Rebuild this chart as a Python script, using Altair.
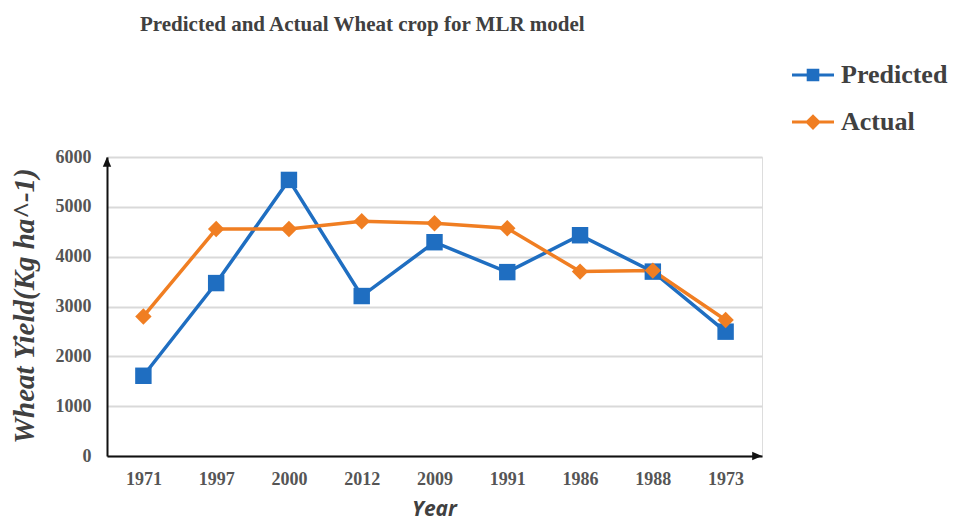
import altair as alt
import pandas as pd

years = ["1971", "1997", "2000", "2012", "2009", "1991", "1986", "1988", "1973"]
predicted = [1610, 3470, 5540, 3210, 4290, 3690, 4430, 3700, 2495]
actual = [2800, 4555, 4555, 4710, 4670, 4570, 3700, 3720, 2730]
series_names = ["Predicted", "Actual"]
colors = ["#1F6EC1", "#F07E22"]
x_title = "Year"
y_title = "Wheat Yield(Kg ha^-1)"
chart_title = "Predicted and Actual Wheat crop  for MLR model"

rows = []
for name, vals in zip(series_names, [predicted, actual]):
    for yr, v in zip(years, vals):
        rows.append({"Year": yr, "series": name, "value": v})
df = pd.DataFrame(rows)

W, H = 655, 299

x_enc = alt.X("Year:N", sort=years, scale=alt.Scale(type="point", padding=0.5),
              axis=alt.Axis(title=None, labelAngle=0, ticks=False, grid=False,
                            domainColor="#111111", domainWidth=2, labelPadding=14))
y_enc = alt.Y("value:Q", scale=alt.Scale(domain=[0, 6000], nice=False),
              axis=alt.Axis(title=None, values=[0, 1000, 2000, 3000, 4000, 5000, 6000],
                            format="d", ticks=False, domainColor="#111111", domainWidth=2,
                            gridColor="#D9D9D9", gridWidth=2, labelPadding=16))

color_a = alt.Color("series:N", scale=alt.Scale(domain=series_names, range=colors), legend=None)

lines = alt.Chart(df).mark_line(strokeWidth=3.5).encode(x=x_enc, y=y_enc, color=color_a)
points = alt.Chart(df).mark_point(filled=True, opacity=1, size=270).encode(
    x=x_enc, y=y_enc, color=color_a,
    shape=alt.Shape("series:N", scale=alt.Scale(domain=series_names, range=["square", "diamond"]), legend=None))

one = pd.DataFrame({"k": [0]})
arrow_up = alt.Chart(one).mark_point(filled=True, size=196, color="#111111", opacity=1,
                                     shape="M0,0L0.6,1.4L-0.6,1.4Z").encode(
    x=alt.value(0), y=alt.datum(6000, type="quantitative"))
arrow_right = alt.Chart(one).mark_point(filled=True, size=196, color="#111111", opacity=1,
                                        shape="M0,0L-1.4,-0.6L-1.4,0.6Z").encode(
    x=alt.value(W), y=alt.datum(0, type="quantitative"))

ytitle = alt.Chart(pd.DataFrame({"t": [y_title]})).mark_text(
    font="Liberation Serif", fontStyle="italic", fontWeight="bold", fontSize=29,
    angle=270, align="center", baseline="alphabetic", color="#404040").encode(
    text="t:N", x=alt.value(-73), y=alt.value(149))
xtitle = alt.Chart(pd.DataFrame({"t": [x_title]})).mark_text(
    font="Open Sans", fontStyle="italic", fontWeight="bold", fontSize=21,
    align="center", baseline="alphabetic", color="#404040").encode(
    text="t:N", x=alt.value(W / 2), y=alt.value(H + 60))

legend_paths = [
    "M-2,-0.15H2V0.15H-2Z M-0.6,-0.6H0.6V0.6H-0.6Z",
    "M-2,-0.15H2V0.15H-2Z M0,-0.75L0.75,0L0,0.75L-0.75,0Z",
]
leg = alt.Legend(title=None, orient="none", legendX=693, legendY=-95,
                 symbolSize=441, symbolOpacity=1, symbolStrokeWidth=0,
                 labelFont="Liberation Serif", labelFontWeight="bold", labelFontSize=26,
                 labelColor="#404040", labelOffset=15, rowPadding=21, padding=0)
legend_layer = alt.Chart(df).mark_point(filled=True, opacity=0, size=1).encode(
    x=x_enc, y=y_enc,
    color=alt.Color("series:N", scale=alt.Scale(domain=series_names, range=colors), legend=leg),
    shape=alt.Shape("series:N", scale=alt.Scale(domain=series_names, range=legend_paths), legend=leg),
)

chart = alt.layer(
    alt.layer(lines, points, arrow_up, arrow_right, ytitle, xtitle),
    legend_layer,
).resolve_scale(color="independent", shape="independent").properties(
    width=W, height=H,
    padding={"left": 99, "top": 149, "right": 197, "bottom": 66},
    autosize=alt.AutoSizeParams(type="none"),
    title=alt.TitleParams(chart_title, anchor="start", frame="group",
                          dx=33, offset=10, baseline="alphabetic",
                          font="Liberation Serif", fontSize=21, fontWeight="bold", color="#404040"),
).configure_view(stroke=None).configure(background="white").configure_axis(
    labelFont="Liberation Serif", labelFontWeight="bold", labelFontSize=18, labelColor="#555555",
)

chart.save("out.html", embed_options={"renderer": "svg", "actions": False})
